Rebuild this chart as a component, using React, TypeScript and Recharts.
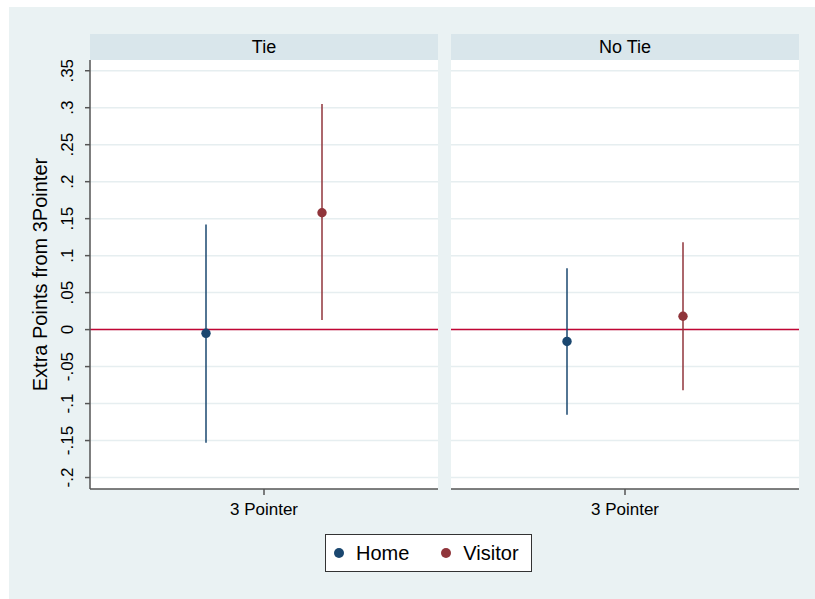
import {
  ScatterChart,
  Scatter,
  XAxis,
  YAxis,
  CartesianGrid,
  ReferenceLine,
  ErrorBar,
} from 'recharts'

// panels (facets) and series
const PANELS = ['Tie', 'No Tie']
const SERIES = ['Home', 'Visitor']
const COLORS = ['#1a476f', '#90353b']
const X_POS = [-1, 1] // Home left of center, Visitor right of center

// point estimates and 95% CI per panel, [Home, Visitor]
const ESTIMATE = [
  [-0.005, 0.158],
  [-0.016, 0.018],
]
const CI_LOW = [
  [-0.153, 0.013],
  [-0.115, -0.082],
]
const CI_HIGH = [
  [0.142, 0.305],
  [0.083, 0.118],
]

const Y_TICKS = [-0.2, -0.15, -0.1, -0.05, 0, 0.05, 0.1, 0.15, 0.2, 0.25, 0.3, 0.35]
const Y_DOMAIN = [-0.2155, 0.3645]
const X_LABEL = '3 Pointer'
const Y_TITLE = 'Extra Points from 3Pointer'

const FONT = '"Liberation Sans", Arial, Helvetica, sans-serif'
const BG = '#eaf2f3'
const STRIP = '#d9e6eb'
const AXIS = '#555555'
const GRID = '#e6eef0'

const fmtTick = (v: number) => {
  if (v === 0) return '0'
  const s = String(Number(v.toFixed(2)))
  return s.replace('0.', '.')
}

function YTick(props: any) {
  const { x, y, payload } = props
  const cx = x - 15
  return (
    <text
      x={cx}
      y={y}
      transform={`rotate(-90 ${cx} ${y})`}
      textAnchor="middle"
      dominantBaseline="central"
      fontSize={17}
      fill="#000"
      fontFamily={FONT}
    >
      {fmtTick(payload.value)}
    </text>
  )
}

function YTitle(props: any) {
  const { viewBox } = props
  const cx = 40
  const cy = viewBox.y + viewBox.height / 2
  return (
    <text
      x={cx}
      y={cy}
      transform={`rotate(-90 ${cx} ${cy})`}
      textAnchor="middle"
      dominantBaseline="central"
      fontSize={20}
      fill="#000"
      fontFamily={FONT}
    >
      {Y_TITLE}
    </text>
  )
}

function Panel({ idx }: { idx: number }) {
  const first = idx === 0
  const left = first ? 0 : 451
  const width = first ? 438 : 348
  return (
    <div style={{ position: 'absolute', left, top: 60 }}>
      <ScatterChart width={width} height={470} margin={{ top: 0, right: 0, bottom: 0, left: 0 }}>
        <CartesianGrid
          vertical={false}
          horizontalValues={Y_TICKS}
          stroke={GRID}
          strokeWidth={1.5}
          fill="#fff"
        />
        <XAxis
          type="number"
          dataKey="x"
          domain={[-3, 3]}
          ticks={[0]}
          tickFormatter={() => X_LABEL}
          height={41}
          stroke={AXIS}
          strokeWidth={1.5}
          tickSize={6}
          tick={{ fontSize: 17, fill: '#000', fontFamily: FONT, dy: 6 }}
        />
        <YAxis
          type="number"
          dataKey="y"
          domain={Y_DOMAIN}
          ticks={Y_TICKS}
          allowDataOverflow
          hide={!first}
          width={first ? 90 : 0}
          stroke={AXIS}
          strokeWidth={1.5}
          tickSize={5}
          tick={<YTick />}
          label={first ? <YTitle /> : undefined}
        />
        <ReferenceLine y={0} stroke="#c10534" strokeWidth={1.5} />
        {SERIES.map((name, s) => {
          const v = ESTIMATE[idx][s]
          const data = [
            {
              x: X_POS[s],
              y: v,
              err: [v - CI_LOW[idx][s], CI_HIGH[idx][s] - v],
            },
          ]
          return (
            <Scatter
              key={name}
              name={name}
              data={data}
              fill={COLORS[s]}
              shape={(p: any) => <circle cx={p.cx} cy={p.cy} r={4.7} fill={COLORS[s]} />}
              isAnimationActive={false}
            >
              <ErrorBar
                dataKey="err"
                direction="y"
                width={0}
                stroke={COLORS[s]}
                strokeWidth={1.5}
                isAnimationActive={false}
              />
            </Scatter>
          )
        })}
      </ScatterChart>
    </div>
  )
}

export default function App() {
  return (
    <div
      style={{
        position: 'absolute',
        left: 0,
        top: 0,
        width: 815,
        height: 599,
        background: '#fff',
        fontFamily: FONT,
        overflow: 'hidden',
      }}
    >
      <div style={{ position: 'absolute', left: 9, top: 7, right: 0, bottom: 0, background: BG }} />
      {PANELS.map((p, i) => (
        <div
          key={p}
          style={{
            position: 'absolute',
            left: i === 0 ? 90 : 451,
            top: 34,
            width: 348,
            height: 26,
            background: STRIP,
            textAlign: 'center',
            lineHeight: '26px',
            fontSize: 18,
            color: '#000',
          }}
        >
          {p}
        </div>
      ))}
      {PANELS.map((p, i) => (
        <Panel key={p} idx={i} />
      ))}
      <div
        style={{
          position: 'absolute',
          left: 325,
          top: 534,
          width: 205,
          height: 36,
          border: '1px solid #333',
          background: '#fff',
          display: 'flex',
          alignItems: 'center',
          fontSize: 20,
          color: '#000',
        }}
      >
        {SERIES.map((name, s) => (
          <div key={name} style={{ display: 'flex', alignItems: 'center', marginLeft: s === 0 ? 8 : 32 }}>
            <span
              style={{
                width: 10,
                height: 10,
                borderRadius: 5,
                background: COLORS[s],
                display: 'inline-block',
                marginRight: 12,
              }}
            />
            {name}
          </div>
        ))}
      </div>
    </div>
  )
}
